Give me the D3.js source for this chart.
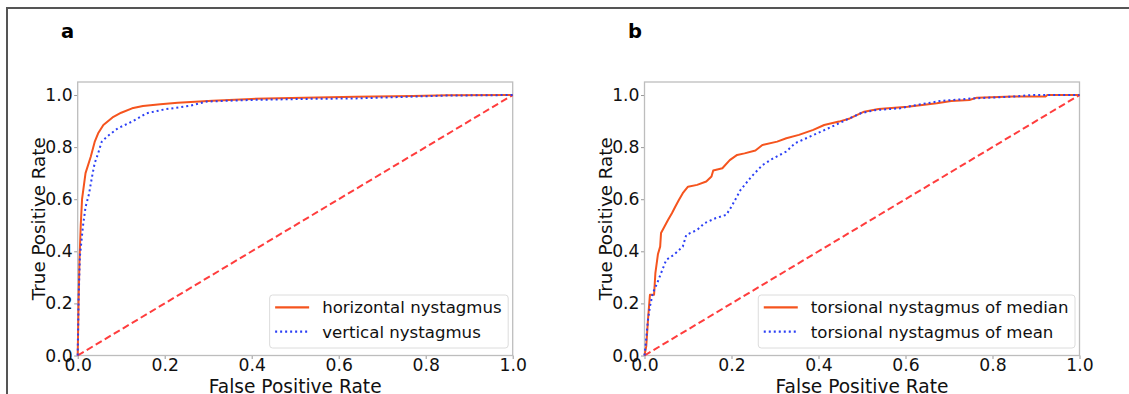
<!DOCTYPE html>
<html>
<head>
<meta charset="utf-8">
<script src="https://cdn.jsdelivr.net/npm/d3@7"></script>
<style>
  body { margin: 0; background: #fff; }
  svg { display: block; font-family: "DejaVu Sans", sans-serif; }
</style>
</head>
<body>
<svg id="chart" width="1129" height="394"></svg>
<script>
// panel a: ROC points [fpr, tpr]
const horizontalROC = [
  [0, 0], [0.002, 0.2], [0.004, 0.36], [0.007, 0.5], [0.01, 0.6], [0.018, 0.7], [0.03, 0.763],
  [0.039, 0.82], [0.047, 0.853], [0.059, 0.885], [0.08, 0.914], [0.1, 0.932], [0.125, 0.949],
  [0.15, 0.958], [0.19, 0.965], [0.23, 0.97], [0.31, 0.978], [0.4, 0.985], [0.52, 0.99],
  [0.64, 0.993], [0.77, 0.996], [0.85, 0.999], [1, 1]
];
const verticalROC = [
  [0, 0], [0.002, 0.21], [0.005, 0.38], [0.012, 0.495], [0.018, 0.57], [0.026, 0.62],
  [0.033, 0.687], [0.039, 0.738], [0.047, 0.776], [0.055, 0.82], [0.067, 0.84], [0.092, 0.872],
  [0.125, 0.898], [0.158, 0.93], [0.2, 0.945], [0.256, 0.958], [0.297, 0.975], [0.396, 0.981],
  [0.52, 0.985], [0.64, 0.987], [0.77, 0.994], [0.85, 0.998], [1, 1]
];
// panel b
const medianROC = [
  [0, 0], [0.004, 0.035], [0.008, 0.137], [0.0125, 0.233], [0.022, 0.233], [0.025, 0.316],
  [0.031, 0.39], [0.036, 0.418], [0.038, 0.47], [0.046, 0.495], [0.054, 0.52], [0.063, 0.546],
  [0.071, 0.572], [0.079, 0.597], [0.088, 0.623], [0.1, 0.648], [0.121, 0.655], [0.142, 0.668],
  [0.154, 0.687], [0.158, 0.71], [0.179, 0.719], [0.196, 0.75], [0.213, 0.77], [0.23, 0.776],
  [0.255, 0.787], [0.271, 0.808], [0.305, 0.821], [0.326, 0.834], [0.355, 0.847], [0.388, 0.866],
  [0.413, 0.885], [0.447, 0.898], [0.472, 0.91], [0.505, 0.936], [0.538, 0.946], [0.605, 0.955],
  [0.672, 0.968], [0.705, 0.977], [0.747, 0.981], [0.764, 0.99], [0.847, 0.994], [0.922, 0.994],
  [0.926, 1], [1, 1]
];
const meanROC = [
  [0, 0], [0.003, 0.047], [0.008, 0.137], [0.0125, 0.188], [0.019, 0.239], [0.029, 0.277],
  [0.038, 0.316], [0.05, 0.367], [0.067, 0.386], [0.088, 0.418], [0.096, 0.463], [0.121, 0.482],
  [0.138, 0.508], [0.163, 0.527], [0.188, 0.54], [0.2, 0.572], [0.221, 0.636], [0.246, 0.687],
  [0.271, 0.731], [0.296, 0.757], [0.326, 0.783], [0.346, 0.815], [0.38, 0.84], [0.405, 0.859],
  [0.43, 0.878], [0.463, 0.904], [0.497, 0.93], [0.53, 0.942], [0.588, 0.949], [0.613, 0.958],
  [0.68, 0.977], [0.755, 0.987], [0.847, 0.994], [0.89, 1], [1, 1]
];
const chanceLine = [[0, 0], [1, 1]];

const tickValues = [0, 0.2, 0.4, 0.6, 0.8, 1.0];
const panelLabels = ["a", "b"];
const legendA = ["horizontal nystagmus", "vertical nystagmus"];
const legendB = ["torsional nystagmus of median", "torsional nystagmus of mean"];

const orange = "#f5541e";
const blue = "#2b3ff5";
const red = "#ff3d3d";

const svg = d3.select("#chart");

// outer frame (only left and top edges show)
svg.append("path")
  .attr("d", "M7,394V8H1129")
  .attr("fill", "none")
  .attr("stroke", "#555")
  .attr("stroke-width", 2);

const panels = [
  {left: 77.7, label: panelLabels[0], labelX: 61, legend: legendA, series: [horizontalROC, verticalROC]},
  {left: 644.5, label: panelLabels[1], labelX: 628, legend: legendB, series: [medianROC, meanROC]}
];
const plotW = 435, plotTop = 82, plotBottom = 355.5;

panels.forEach(p => {
  const x = d3.scaleLinear().domain([0, 1]).range([p.left, p.left + plotW]);
  const y = d3.scaleLinear().domain([0, 1.05]).range([plotBottom, plotTop]);
  const g = svg.append("g");

  g.append("text")
    .attr("x", p.labelX).attr("y", 38)
    .attr("font-size", 19.5).attr("font-weight", "bold")
    .text(p.label);

  const xAxis = g.append("g")
    .attr("transform", `translate(0,${plotBottom})`)
    .call(d3.axisBottom(x).tickValues(tickValues).tickFormat(d3.format(".1f")).tickSize(3.5).tickPadding(0));
  const yAxis = g.append("g")
    .attr("transform", `translate(${p.left},0)`)
    .call(d3.axisLeft(y).tickValues(tickValues).tickFormat(d3.format(".1f")).tickSize(3.5).tickPadding(1.5));
  [xAxis, yAxis].forEach(a => {
    a.select(".domain").remove();
    a.selectAll(".tick line").attr("stroke", "#999");
    a.selectAll(".tick text").attr("font-size", 17.2).attr("fill", "#111")
      .attr("font-family", "DejaVu Sans, sans-serif");
  });

  // spines
  g.append("rect")
    .attr("x", p.left).attr("y", plotTop)
    .attr("width", plotW).attr("height", plotBottom - plotTop)
    .attr("fill", "none").attr("stroke", "#bdbdbd").attr("stroke-width", 1.3);

  const line = d3.line().x(d => x(d[0])).y(d => y(d[1]));

  g.append("path").datum(chanceLine)
    .attr("d", line).attr("fill", "none")
    .attr("stroke", red).attr("stroke-width", 2).attr("stroke-dasharray", "7,3.5");

  g.append("path").datum(p.series[0])
    .attr("d", line).attr("fill", "none")
    .attr("stroke", orange).attr("stroke-width", 2).attr("stroke-linejoin", "round");

  g.append("path").datum(p.series[1])
    .attr("d", line).attr("fill", "none")
    .attr("stroke", blue).attr("stroke-width", 2).attr("stroke-dasharray", "2,3");

  // axis labels
  g.append("text")
    .attr("x", p.left + plotW / 2).attr("y", 393)
    .attr("text-anchor", "middle").attr("font-size", 18.6).attr("fill", "#111")
    .text("False Positive Rate");
  g.append("text")
    .attr("transform", `translate(${p.left - 32.5},${(plotTop + plotBottom) / 2}) rotate(-90)`)
    .attr("text-anchor", "middle").attr("font-size", 18.3).attr("fill", "#111")
    .text("True Positive Rate");

  // legend
  const leg = g.append("g");
  const box = leg.append("rect")
    .attr("fill", "#fff").attr("fill-opacity", 0.85)
    .attr("stroke", "#dcdcdc").attr("rx", 3);
  const rowY = [307.3, 331.7];
  let maxW = 0;
  const texts = p.legend.map((t, i) => {
    const tx = leg.append("text")
      .attr("y", rowY[i]).attr("dy", "0.35em")
      .attr("font-size", 16.6).attr("fill", "#111")
      .text(t);
    maxW = Math.max(maxW, tx.node().getComputedTextLength());
    return tx;
  });
  const boxRight = p.left + plotW - 4.5;
  const boxLeft = boxRight - (maxW + 59);
  box.attr("x", boxLeft).attr("y", 295).attr("width", boxRight - boxLeft).attr("height", 53);
  texts.forEach(t => t.attr("x", boxLeft + 52.5));
  [orange, blue].forEach((c, i) => {
    leg.append("line")
      .attr("x1", boxLeft + 5.5).attr("x2", boxLeft + 39.5)
      .attr("y1", rowY[i]).attr("y2", rowY[i])
      .attr("stroke", c).attr("stroke-width", 2.2)
      .attr("stroke-dasharray", i === 1 ? "2,3" : null);
  });
});
</script>
</body>
</html>
